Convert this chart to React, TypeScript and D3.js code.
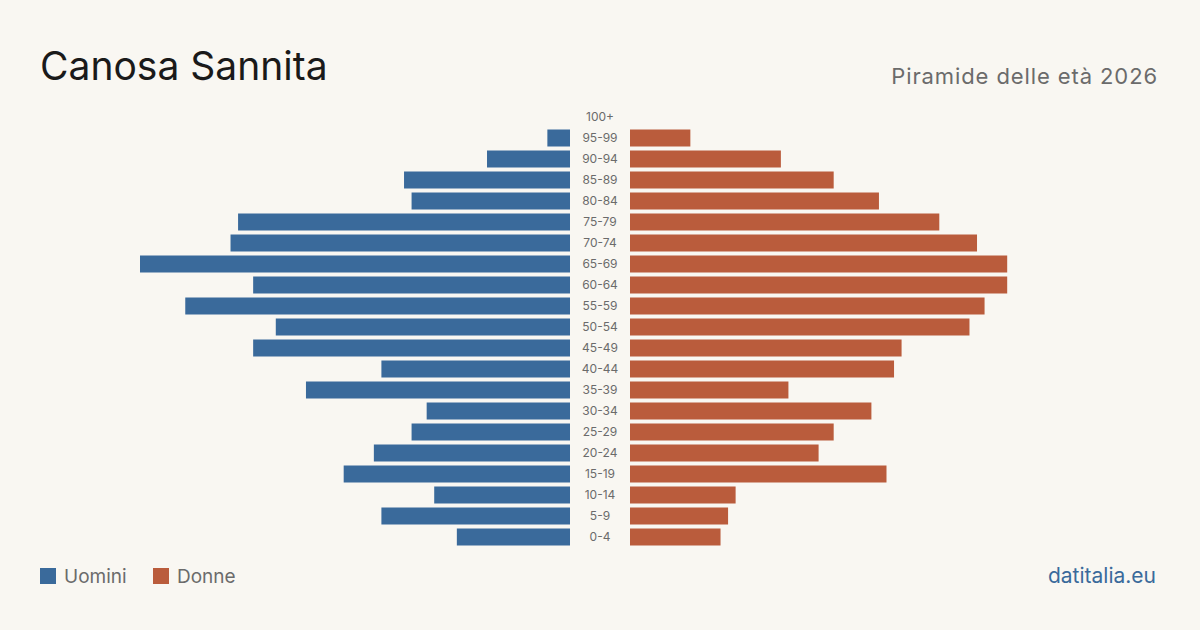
import React from "react";
import * as d3 from "d3";

const ageGroups = ["100+","95-99","90-94","85-89","80-84","75-79","70-74","65-69","60-64","55-59","50-54","45-49","40-44","35-39","30-34","25-29","20-24","15-19","10-14","5-9","0-4"];
const maleValues = [0,3,11,22,21,44,45,57,42,51,39,42,25,35,19,21,26,30,18,25,15];
const femaleValues = [0,8,20,27,33,41,46,50,50,47,45,36,35,21,32,27,25,34,14,13,12];

const title = "Canosa Sannita";
const subtitle = "Piramide delle età 2026";
const legendLabels = ["Uomini", "Donne"];
const source = "datitalia.eu";

const W = 1200, H = 630;
const BG = "#f9f7f2";
const BLUE = "#3a6a9b";
const ORANGE = "#ba5c3c";
const FONT = "Inter, 'Noto Sans', sans-serif";

export default function App() {
  const maxV = d3.max([...maleValues, ...femaleValues]) as number;
  const xM = d3.scaleLinear().domain([0, maxV]).range([570, 140]);
  const xF = d3.scaleLinear().domain([0, maxV]).range([630, 1060]);
  const y = d3.scaleBand().domain(ageGroups).range([106.5, 547.5]).paddingInner(4 / 21).paddingOuter(2 / 21);
  const bw = y.bandwidth();
  return (
    <svg width={W} height={H} style={{ display: "block", position: "absolute", left: 0, top: 0 }}>
      <rect width={W} height={H} fill={BG} />
      <text x={40} y={80} fontFamily={FONT} fontSize={39} fill="#1a1a1a">{title}</text>
      <text x={1158} y={84} textAnchor="end" fontFamily={FONT} fontSize={22} letterSpacing={0.9} fill="#6b6b6b">{subtitle}</text>
      {ageGroups.map((g, i) => (
        <g key={g}>
          {maleValues[i] > 0 && (
            <rect x={xM(maleValues[i])} y={y(g)} width={xM(0) - xM(maleValues[i])} height={bw} fill={BLUE} />
          )}
          {femaleValues[i] > 0 && (
            <rect x={xF(0)} y={y(g)} width={xF(femaleValues[i]) - xF(0)} height={bw} fill={ORANGE} />
          )}
          <text x={600} y={(y(g) as number) + bw / 2} dy="0.35em" textAnchor="middle" fontFamily={FONT} fontSize={12} fill="#6b6b6b">{g}</text>
        </g>
      ))}
      <rect x={40} y={568} width={16} height={16} fill={BLUE} />
      <text x={64} y={576} dy="0.35em" fontFamily={FONT} fontSize={19} fill="#6b6b6b">{legendLabels[0]}</text>
      <rect x={153} y={568} width={16} height={16} fill={ORANGE} />
      <text x={177} y={576} dy="0.35em" fontFamily={FONT} fontSize={19} fill="#6b6b6b">{legendLabels[1]}</text>
      <text x={1156} y={576} dy="0.35em" textAnchor="end" fontFamily={FONT} fontSize={21} fill={BLUE}>{source}</text>
    </svg>
  );
}
